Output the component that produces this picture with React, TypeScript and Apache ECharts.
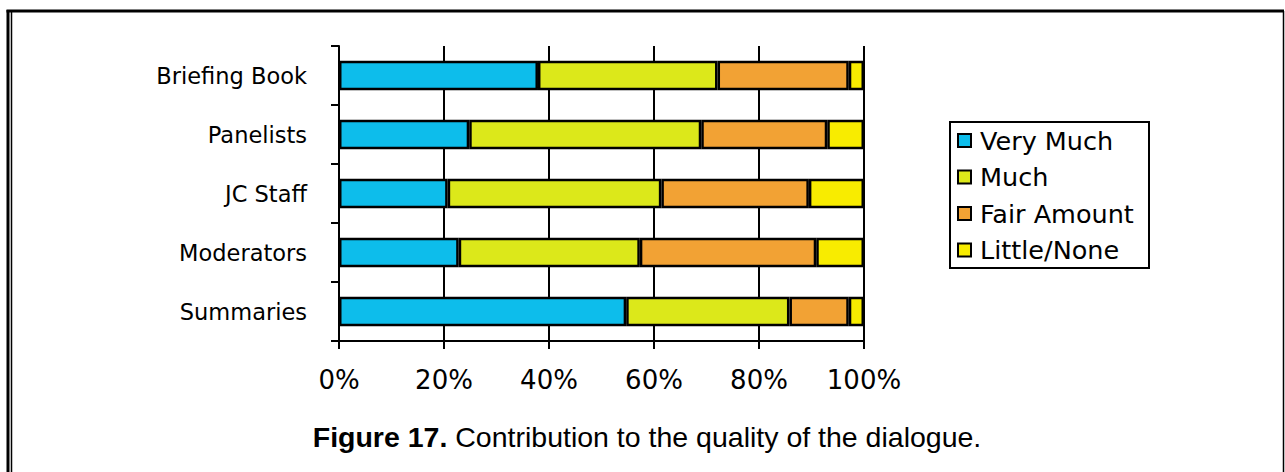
import React, { useEffect, useRef } from "react";
import * as echarts from "echarts";

const categories = ["Briefing Book", "Panelists", "JC Staff", "Moderators", "Summaries"];
const seriesNames = ["Very Much", "Much", "Fair Amount", "Little/None"];
const veryMuch = [37.9, 24.8, 20.7, 22.8, 54.7];
const much = [34.2, 44.2, 40.7, 34.5, 31.1];
const fairAmount = [25.0, 24.0, 28.1, 33.6, 11.3];
const littleNone = [2.9, 7.0, 10.5, 9.1, 2.9];
const colors = ["#0DBDEB", "#DCE81A", "#F2A234", "#F8EC00"];
const caption = ["Figure 17.", " Contribution to the quality of the dialogue."];

export default function App() {
  const ref = useRef<HTMLDivElement>(null);
  useEffect(() => {
    if (!ref.current) return;
    const chart = echarts.init(ref.current, null, { renderer: "svg" });
    const values = [veryMuch, much, fairAmount, littleNone];
    const font = "DejaVu Sans";
    chart.setOption({
      animation: false,
      backgroundColor: "#fff",
      grid: { left: 339, top: 46, width: 525, height: 295, containLabel: false },
      xAxis: {
        type: "value",
        min: 0,
        max: 100,
        interval: 20,
        axisLine: { show: true, lineStyle: { color: "#000", width: 2 } },
        axisTick: { show: true, length: 8, lineStyle: { color: "#000", width: 2 } },
        splitLine: { show: true, lineStyle: { color: "#000", width: 2 } },
        axisLabel: {
          formatter: "{value}%",
          color: "#000",
          fontFamily: font,
          fontSize: 26,
          margin: 26,
        },
      },
      yAxis: {
        type: "category",
        data: categories,
        inverse: true,
        axisLine: { show: true, lineStyle: { color: "#000", width: 2 } },
        axisTick: { show: true, length: 8, lineStyle: { color: "#000", width: 2 } },
        splitLine: { show: false },
        axisLabel: { color: "#000", fontFamily: font, fontSize: 22.5, margin: 32 },
      },
      legend: {
        orient: "vertical",
        left: 952,
        top: 121,
        data: seriesNames,
        icon: "rect",
        itemWidth: 13,
        itemHeight: 13,
        itemGap: 7.5,
        itemStyle: { borderColor: "#000", borderWidth: 2 },
        textStyle: {
          color: "#000",
          fontFamily: font,
          fontSize: 25.5,
          lineHeight: 29,
          padding: [0, 0, 0, 4],
        },
        selectedMode: false,
      },
      graphic: [
        { type: "rect", shape: { x: 950, y: 122, width: 199, height: 146 }, style: { fill: "none", stroke: "#000", lineWidth: 2 }, z: 1 },
        { type: "line", shape: { x1: 8, y1: 10, x2: 8, y2: 472 }, style: { stroke: "#000", lineWidth: 3 } },
        { type: "line", shape: { x1: 11.5, y1: 12, x2: 11.5, y2: 472 }, style: { stroke: "#000", lineWidth: 1.5 } },
        { type: "line", shape: { x1: 6.5, y1: 11, x2: 1284, y2: 11 }, style: { stroke: "#000", lineWidth: 3 } },
        { type: "line", shape: { x1: 1283.5, y1: 11, x2: 1283.5, y2: 472 }, style: { stroke: "#000", lineWidth: 1.5 } },
        {
          type: "text",
          x: 647,
          y: 437,
          style: {
            text: `{b|${caption[0]}}{r|${caption[1]}}`,
            align: "center",
            verticalAlign: "middle",
            rich: {
              b: { fontFamily: "Liberation Sans", fontWeight: "bold", fontSize: 28.5, fill: "#000" },
              r: { fontFamily: "Liberation Sans", fontSize: 28.5, fill: "#000" },
            },
          },
        },
      ],
      series: seriesNames.map((name, i) => ({
        name,
        type: "bar",
        stack: "total",
        barWidth: "50%",
        data: values[i],
        itemStyle: { color: colors[i], borderColor: "#000", borderWidth: 2.5 },
      })),
    });
    return () => chart.dispose();
  }, []);
  return <div ref={ref} style={{ position: "fixed", left: 0, top: 0, width: 1285, height: 472 }} />;
}
